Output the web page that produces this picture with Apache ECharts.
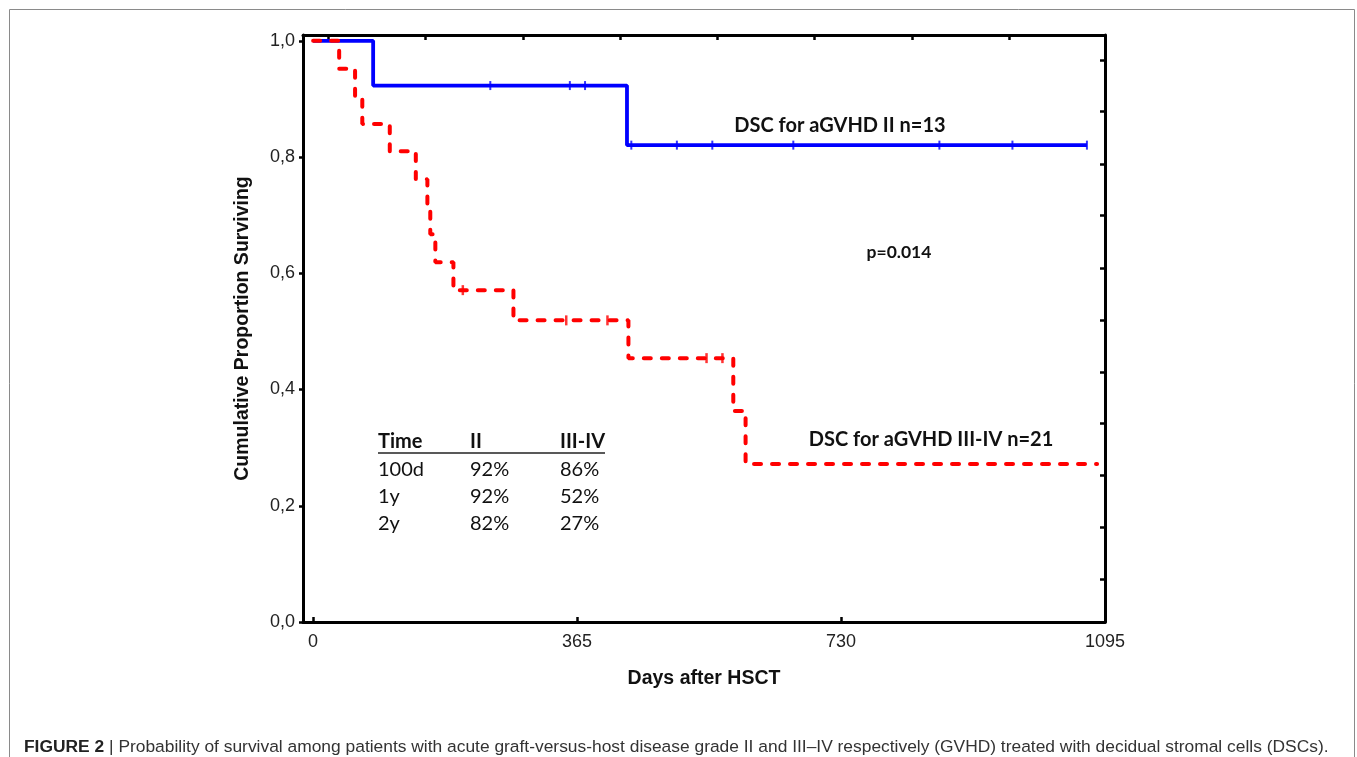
<!DOCTYPE html>
<html>
<head>
<meta charset="utf-8">
<script src="https://cdn.jsdelivr.net/npm/echarts@6/dist/echarts.min.js"></script>
<style>
  html, body { margin: 0; padding: 0; background: #fff; }
  #chart { width: 1357px; height: 757px; }
</style>
</head>
<body>
<div id="chart"></div>
<script>
// Kaplan-Meier steps (days after HSCT, proportion surviving)
const blueTimes = [0, 83, 434, 1070]
const blueSurv = [1, 0.923, 0.8205, 0.8205]
const blueCensored = [245, 355, 376, 440, 503, 552, 664, 866, 967, 1070]

const redTimes = [0, 36, 58, 68, 106, 142, 158, 162, 169, 194, 277, 436, 581, 598, 1084]
const redSurv = [1, 0.952, 0.905, 0.857, 0.810, 0.762, 0.714, 0.667, 0.619, 0.571, 0.519, 0.454, 0.363, 0.272, 0.272]
const redCensored = [207, 350, 407, 544, 566]

// axis ticks
const xTicks = [0, 365, 730, 1095]
const yTicks = [0, 0.2, 0.4, 0.6, 0.8, 1.0]
const topTicks = [20.7, 155.3, 289.9, 424.5, 559, 693.6, 828, 962.8]
const rightTicks = [0.074, 0.163, 0.252, 0.342, 0.430, 0.520, 0.609, 0.700, 0.788, 0.878, 0.966]

// inset table
const tableHeader = ['Time', 'II', 'III-IV']
const tableRows = [
  ['100d', '92%', '86%'],
  ['1y', '92%', '52%'],
  ['2y', '82%', '27%']
]

const caption = 'Probability of survival among patients with acute graft-versus-host disease grade II and III\u2013IV respectively (GVHD) treated with decidual stromal cells (DSCs).'

function survAt (times, surv, t) {
  let s = surv[0]
  for (let i = 0; i < times.length; i++) {
    if (times[i] <= t) s = surv[i]
  }
  return s
}

const pairs = (xs, ys) => xs.map((x, i) => [x, ys[i]])

const chart = echarts.init(document.getElementById('chart'))

const labelFont = 'Liberation Sans'
const textFont = 'Lato'

const tableCols = [378, 470, 560]
const tableRowY = [470, 497, 524]

const tableGraphics = []
tableHeader.forEach((h, i) => {
  tableGraphics.push({
    type: 'text', x: tableCols[i], y: 442,
    style: { text: h, font: 'bold 20px ' + textFont, fill: '#111', textVerticalAlign: 'middle' }
  })
})
tableGraphics.push({
  type: 'line', shape: { x1: 378, y1: 453, x2: 605, y2: 453 },
  style: { stroke: '#222', lineWidth: 1.5 }
})
tableRows.forEach((row, r) => {
  row.forEach((cell, c) => {
    tableGraphics.push({
      type: 'text', x: tableCols[c], y: tableRowY[r],
      style: { text: cell, font: '20px ' + textFont, fill: '#111', textVerticalAlign: 'middle' }
    })
  })
})

const option = {
  animation: false,
  backgroundColor: '#fff',
  title: {
    left: 24,
    top: 739,
    padding: 0,
    text: '{b|FIGURE 2} | ' + caption,
    textStyle: {
      fontFamily: labelFont,
      fontSize: 17.4,
      fontWeight: 'normal',
      color: '#333',
      rich: {
        b: { fontFamily: labelFont, fontSize: 17.4, fontWeight: 'bold', color: '#222' }
      }
    }
  },
  grid: { left: 303, right: 252, top: 35, bottom: 135 },
  xAxis: [
    {
      type: 'value',
      position: 'bottom',
      min: -14,
      max: 1095,
      name: 'Days after HSCT',
      nameLocation: 'middle',
      nameGap: 47,
      nameTextStyle: { fontFamily: labelFont, fontWeight: 'bold', fontSize: 19.5, color: '#111' },
      axisLine: { show: true, onZero: false, lineStyle: { color: '#000', width: 3 } },
      axisTick: { show: true, inside: true, length: 5, customValues: xTicks, lineStyle: { color: '#000', width: 2.5 } },
      axisLabel: { customValues: xTicks, margin: 11, fontFamily: labelFont, fontSize: 18, color: '#222', formatter: v => String(v) },
      splitLine: { show: false }
    },
    {
      type: 'value',
      position: 'top',
      min: -14,
      max: 1095,
      axisLine: { show: true, onZero: false, lineStyle: { color: '#000', width: 3 } },
      axisTick: { show: true, inside: true, length: 5, customValues: topTicks, lineStyle: { color: '#000', width: 2.5 } },
      axisLabel: { show: false },
      splitLine: { show: false }
    }
  ],
  yAxis: [
    {
      type: 'value',
      position: 'left',
      min: 0,
      max: 1.01,
      name: 'Cumulative Proportion Surviving',
      nameLocation: 'middle',
      nameGap: 50,
      nameTextStyle: { fontFamily: labelFont, fontWeight: 'bold', fontSize: 19.5, color: '#111' },
      axisLine: { show: true, onZero: false, lineStyle: { color: '#000', width: 3 } },
      axisTick: { show: true, inside: false, length: 4, customValues: yTicks, lineStyle: { color: '#000', width: 2.5 } },
      axisLabel: {
        customValues: yTicks,
        margin: 8,
        fontFamily: labelFont,
        fontSize: 18,
        color: '#222',
        formatter: v => v.toFixed(1).replace('.', ',')
      },
      splitLine: { show: false }
    },
    {
      type: 'value',
      position: 'right',
      min: 0,
      max: 1.01,
      axisLine: { show: true, onZero: false, lineStyle: { color: '#000', width: 3 } },
      axisTick: { show: true, inside: true, length: 5, customValues: rightTicks, lineStyle: { color: '#000', width: 2.5 } },
      axisLabel: { show: false },
      splitLine: { show: false }
    }
  ],
  series: [
    {
      name: 'DSC for aGVHD II n=13',
      type: 'line',
      step: 'end',
      symbol: 'none',
      data: pairs(blueTimes, blueSurv),
      lineStyle: { color: '#0000ff', width: 3.8 },
      z: 3
    },
    {
      name: 'DSC for aGVHD III-IV n=21',
      type: 'line',
      step: 'end',
      symbol: 'none',
      data: pairs(redTimes, redSurv),
      lineStyle: { color: '#ff0000', width: 4, type: [7, 11], cap: 'round' },
      z: 4
    },
    {
      type: 'scatter',
      symbol: 'rect',
      symbolSize: [2, 9],
      itemStyle: { color: '#0000ff' },
      data: blueCensored.map(t => [t, survAt(blueTimes, blueSurv, t)]),
      z: 5
    },
    {
      type: 'scatter',
      symbol: 'rect',
      symbolSize: [2.5, 10],
      itemStyle: { color: '#ff0000' },
      data: redCensored.map(t => [t, survAt(redTimes, redSurv, t)]),
      z: 5
    }
  ],
  graphic: [
    {
      type: 'rect',
      shape: { x: 9.5, y: 9.5, width: 1345, height: 800 },
      style: { fill: 'none', stroke: '#8a8a8a', lineWidth: 1 },
      silent: true
    },
    {
      type: 'text', x: 840, y: 126,
      style: { text: 'DSC for aGVHD II n=13', font: 'bold 20px ' + textFont, fill: '#111', textAlign: 'center', textVerticalAlign: 'middle' }
    },
    {
      type: 'text', x: 899, y: 252,
      style: { text: 'p=0.014', font: 'bold 17.5px ' + textFont, fill: '#111', textAlign: 'center', textVerticalAlign: 'middle' }
    },
    {
      type: 'text', x: 931, y: 440,
      style: { text: 'DSC for aGVHD III-IV n=21', font: 'bold 20px ' + textFont, fill: '#111', textAlign: 'center', textVerticalAlign: 'middle' }
    }
  ].concat(tableGraphics)
}

chart.setOption(option)
</script>
</body>
</html>
